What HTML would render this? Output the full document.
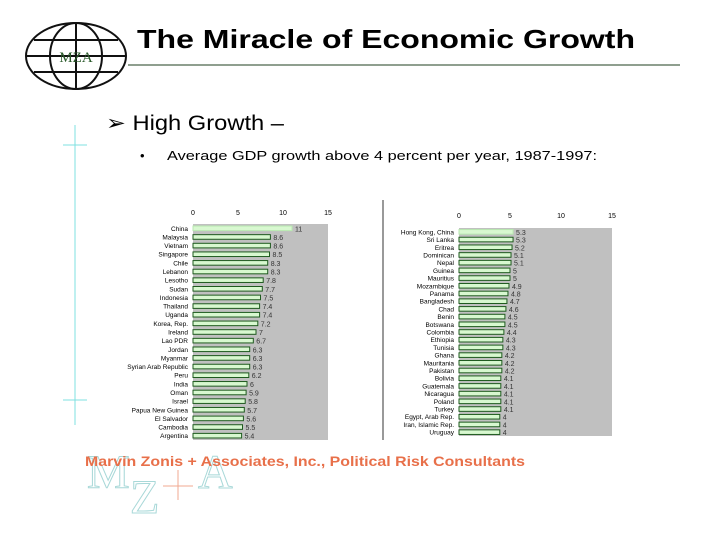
<!DOCTYPE html>
<html><head><meta charset="utf-8"><style>
body{margin:0;width:720px;height:540px;background:#fff;overflow:hidden;font-family:"Liberation Sans",sans-serif;}
svg{display:block}
</style></head><body>
<svg id="s" width="720" height="540" xmlns="http://www.w3.org/2000/svg">
<g fill="none" stroke="#111" stroke-width="2">
<ellipse cx="76" cy="56" rx="50" ry="33"/>
<ellipse cx="76" cy="56" rx="26" ry="33"/>
<line x1="76" y1="23" x2="76" y2="89"/>
<line x1="26" y1="56" x2="126" y2="56"/>
<line x1="34" y1="40" x2="118" y2="40"/>
<line x1="34" y1="72" x2="118" y2="72"/>
<text x="76" y="62" font-family="Liberation Serif" font-size="15" fill="#2a5a2a" stroke="none" text-anchor="middle">MZA</text>
</g>
<text x="137" y="48" font-size="26" font-weight="bold" fill="#000" textLength="498" lengthAdjust="spacingAndGlyphs">The Miracle of Economic Growth</text>
<line x1="128" y1="65" x2="680" y2="65" stroke="#1f3f1f" stroke-width="1"/>
<g stroke="#7fe0e0" stroke-width="1">
<line x1="75" y1="125" x2="75" y2="425"/><line x1="63" y1="145" x2="87" y2="145"/><line x1="63" y1="400" x2="87" y2="400"/>
</g>
<text x="106" y="130" font-size="21" textLength="178" lengthAdjust="spacingAndGlyphs">➢ High Growth –</text>
<text x="140" y="160" font-size="13">•</text>
<text x="167" y="160" font-size="13" textLength="430" lengthAdjust="spacingAndGlyphs">Average GDP growth above 4 percent per year, 1987-1997:</text>
<line x1="383" y1="200" x2="383" y2="440" stroke="#333"/>
<g id="left"></g>
<g id="right"></g>
<g fill="none" stroke-width="1" font-family="Liberation Serif">
<text x="87" y="488" font-size="48" stroke="#a8d8d8">M</text>
<text x="130" y="513" font-size="48" stroke="#a8d8d8">Z</text>
<text x="198" y="488" font-size="48" stroke="#a8d8d8">A</text>
<line x1="178" y1="470" x2="178" y2="500" stroke="#f0a890"/><line x1="163" y1="486" x2="193" y2="486" stroke="#f0a890"/>
</g>
<text x="85" y="466" font-size="13.6" font-weight="bold" fill="#e8704a" textLength="440" lengthAdjust="spacingAndGlyphs">Marvin Zonis + Associates, Inc., Political Risk Consultants</text>
</svg>
<script>
const leftCats=["China","Malaysia","Vietnam","Singapore","Chile","Lebanon","Lesotho","Sudan","Indonesia","Thailand","Uganda","Korea, Rep.","Ireland","Lao PDR","Jordan","Myanmar","Syrian Arab Republic","Peru","India","Oman","Israel","Papua New Guinea","El Salvador","Cambodia","Argentina"];
const leftVals=[11.0,8.6,8.6,8.5,8.3,8.3,7.8,7.7,7.5,7.4,7.4,7.2,7,6.7,6.3,6.3,6.3,6.2,6,5.9,5.8,5.7,5.6,5.5,5.4];
const rightCats=["Hong Kong, China","Sri Lanka","Eritrea","Dominican","Nepal","Guinea","Mauritius","Mozambique","Panama","Bangladesh","Chad","Benin","Botswana","Colombia","Ethiopia","Tunisia","Ghana","Mauritania","Pakistan","Bolivia","Guatemala","Nicaragua","Poland","Turkey","Egypt, Arab Rep.","Iran, Islamic Rep.","Uruguay"];
const rightVals=[5.3,5.3,5.2,5.1,5.1,5,5,4.9,4.8,4.7,4.6,4.5,4.5,4.4,4.3,4.3,4.2,4.2,4.2,4.1,4.1,4.1,4.1,4.1,4,4,4];
const ticks=[0,5,10,15];
const NS="http://www.w3.org/2000/svg";
function mk(t,a,p){const e=document.createElementNS(NS,t);for(const k in a)e.setAttribute(k,a[k]);p.appendChild(e);return e;}
function chart(g,cats,vals,x0,x15,top,bot,tickY){
  const xs=v=>x0+(x15-x0)*v/15;
  const bg=mk('rect',{x:x0,y:top,width:x15-x0,height:bot-top,fill:'#c0c0c0'},g);
  
  
  ticks.forEach(t=>{const tx=mk('text',{x:xs(t),y:tickY,'font-size':7,'text-anchor':'middle'},g);tx.textContent=t;
    
    });
  const step=(bot-top)/cats.length;
  cats.forEach((c,i)=>{
    const cy=top+step*(i+0.5);
    const r=mk('rect',{x:x0,y:cy-2.3,width:xs(vals[i])-x0,height:4.6,fill:'#d8f8d0',stroke:i==0?'#b8e8b0':'#1e5a1e','stroke-width':1},g);
    
    
    const l=mk('text',{x:x0-5,y:cy+2.5,'font-size':6.5,'text-anchor':'end'},g);l.textContent=c;
    
    
    const v=mk('text',{x:xs(vals[i])+3,y:cy+3,'font-size':7,fill:'#333'},g);v.textContent=vals[i];
    
    
  });
}
chart(document.getElementById('left'),leftCats,leftVals,193,328,224,440,215);
chart(document.getElementById('right'),rightCats,rightVals,459,612,228,436,218);
</script>
</body></html>
